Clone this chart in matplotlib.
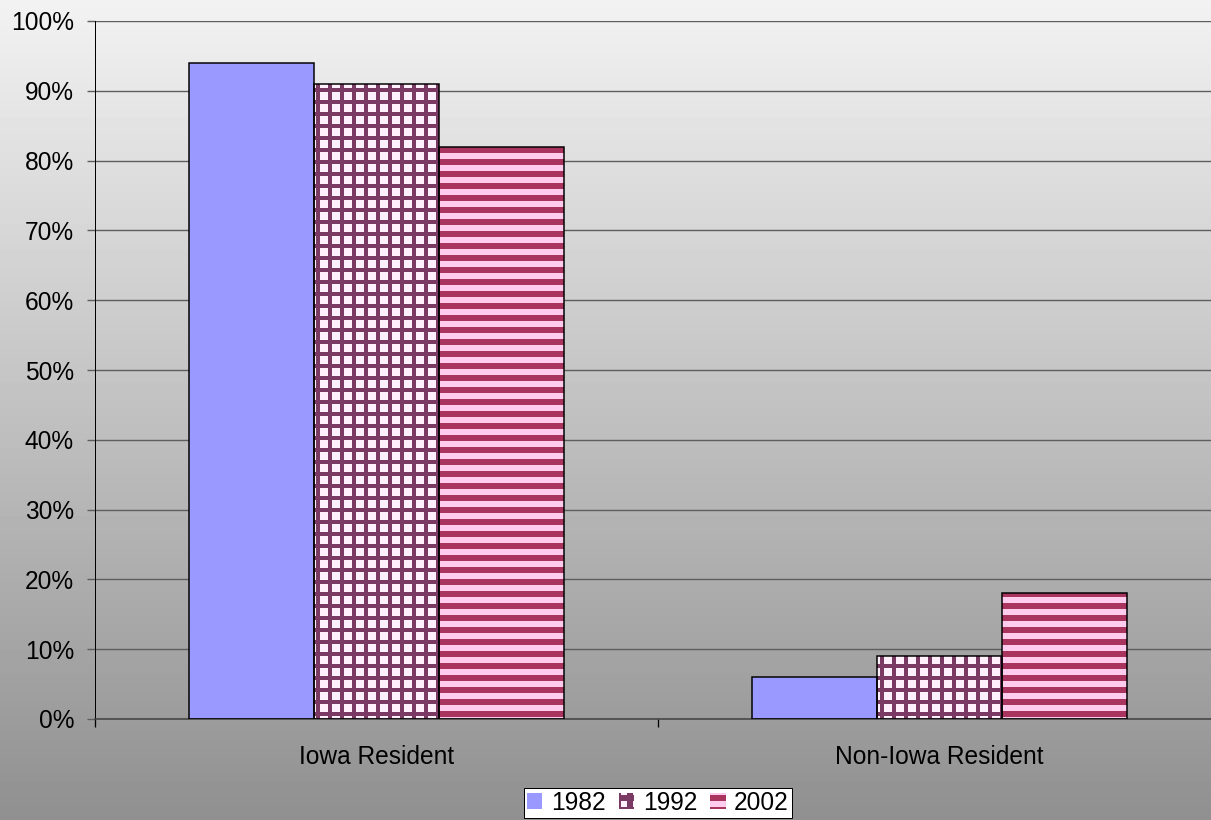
import matplotlib.pyplot as plt
import numpy as np

# chart data
categories = ['Iowa Resident', 'Non-Iowa Resident']
years = ['1982', '1992', '2002']
share_1982 = [94, 6]
share_1992 = [91, 9]
share_2002 = [82, 18]
y_ticks = [0, 10, 20, 30, 40, 50, 60, 70, 80, 90, 100]

plt.rcParams['font.family'] = ['Liberation Sans', 'DejaVu Sans']

DPI = 72
FS = 24.5
fig = plt.figure(figsize=(1211 / DPI, 820 / DPI), dpi=DPI)

# grey gradient behind everything
bg = fig.add_axes([0, 0, 1, 1], zorder=-10)
grad = np.linspace(242, 144, 256).reshape(-1, 1) / 255.0
bg.imshow(grad, aspect='auto', cmap='gray', vmin=0, vmax=1,
          extent=[0, 1, 0, 1], interpolation='bilinear')
bg.set_axis_off()

ax = fig.add_axes([95 / 1211, 101 / 820, 1126 / 1211, 698 / 820])
ax.set_facecolor('none')

x = np.arange(len(categories))
w = 0.222

# (values, fill, hatch colour, hatch, hatch width)
styles = [
    (share_1982, '#9999ff', '#9999ff', None, 0),
    (share_1992, '#fff0fb', '#7b3a63', '+', 4),
    (share_2002, '#ffccee', '#a9345e', '-', 6),
]

handles = []
for i, (vals, fc, hc, hatch, hw) in enumerate(styles):
    pos = x + (i - 1) * w
    plt.rcParams['hatch.linewidth'] = max(hw, 0.5)
    b = ax.bar(pos, vals, width=w, color=fc, edgecolor=hc, hatch=hatch,
               linewidth=0, zorder=2, label=years[i])
    if hatch:
        try:
            for p in b:
                p.set_hatch_linewidth(hw)
        except AttributeError:
            pass
    ax.bar(pos, vals, width=w, facecolor='none', edgecolor='black',
           linewidth=1.5, zorder=3)
    handles.append(b)

ax.set_ylim(0, 100)
ax.set_xlim(-0.5, 1.5)
ax.set_yticks(y_ticks)
ax.set_yticklabels([f'{v}%' for v in y_ticks], fontsize=FS)
ax.yaxis.grid(True, color='#5e5e5e', linewidth=1.4, zorder=0)
ax.set_axisbelow(True)

ax.set_xticks([-0.5, 0.5, 1.5])
ax.set_xticklabels([])
ax.set_xticks(x, minor=True)
ax.set_xticklabels(categories, minor=True, fontsize=FS)
ax.tick_params(axis='x', which='major', length=8, width=1.3, color='black')
ax.tick_params(axis='x', which='minor', length=0, pad=26)
ax.tick_params(axis='y', length=8, width=1.4, color='#5e5e5e', pad=13)

ax.spines['top'].set_visible(False)
ax.spines['right'].set_visible(False)
ax.spines['left'].set_color('black')
ax.spines['left'].set_linewidth(1)
ax.spines['bottom'].set_color('#404040')
ax.spines['bottom'].set_linewidth(1.5)

leg = fig.legend(handles=handles, labels=years, loc='lower center',
                 bbox_to_anchor=(658 / 1211, 2 / 820), ncol=3, fontsize=FS,
                 frameon=True, fancybox=False, framealpha=1, edgecolor='black',
                 handlelength=0.62, handleheight=0.62, handletextpad=0.35,
                 columnspacing=0.55, borderpad=0.12, borderaxespad=0)
leg.get_frame().set_linewidth(1)

fig.savefig('out.png', dpi=DPI)
